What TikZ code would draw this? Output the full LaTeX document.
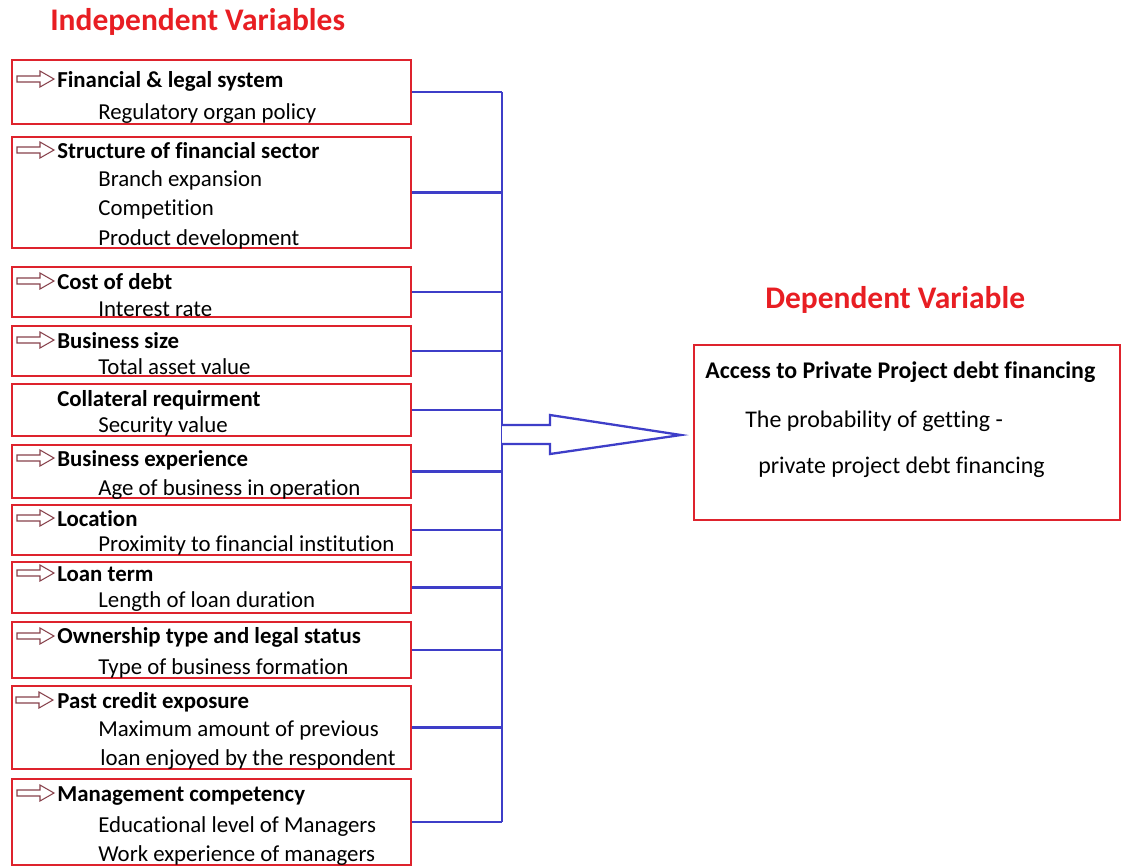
\documentclass[tikz,border=0pt]{standalone}
\usepackage{fontspec}
\setmainfont{Carlito}[Ligatures=NoCommon]
\usepackage{tikz}
\usetikzlibrary{positioning,calc}
\definecolor{boxred}{RGB}{222,35,45}
\definecolor{headred}{RGB}{232,30,35}
\definecolor{linkblue}{RGB}{62,62,200}
\definecolor{ptrbrown}{RGB}{135,65,75}
\newcommand{\bodysize}{\fontsize{13}{15}\selectfont}
\newcommand{\depsize}{\fontsize{13.6}{16}\selectfont}
\newcommand{\headsize}{\fontsize{17.9}{20}\selectfont}

\begin{document}
\begin{tikzpicture}[
    x=0.02cm, y=-0.02cm,
    ivbox/.style={draw=boxred, line width=1.4pt, minimum width=7.98cm, inner sep=0pt},
    ivtitle/.style={anchor=base west, inner sep=0pt, font=\bodysize\bfseries},
    ivsub/.style={anchor=base west, inner sep=0pt, font=\bodysize},
    header/.style={anchor=base west, inner sep=0pt, font=\headsize\bfseries, text=headred},
    link/.style={draw=linkblue, line width=1.3pt},
    ptr/.pic={\draw[ptrbrown, line width=0.6pt, fill=white]
        (0,-3) -- (23,-3) -- (23,-8) -- (37,0) -- (23,8) -- (23,3) -- (0,3) -- cycle;}
]
\useasboundingbox (0,0) rectangle (1127,867);

% headers
\node[header] (indep) at (50,30) {Independent Variables};
\node[header] (dep) at (765,308) {Dependent Variable};

% independent variable boxes
\node[ivbox, minimum height=1.28cm] (fin) at (211.5,92) {};
\node[ivbox, minimum height=2.22cm] (struct) at (211.5,192.5) {};
\node[ivbox, minimum height=1.00cm] (cost) at (211.5,292) {};
\node[ivbox, minimum height=1.00cm] (size) at (211.5,351) {};
\node[ivbox, minimum height=1.04cm] (coll) at (211.5,410) {};
\node[ivbox, minimum height=1.06cm] (exper) at (211.5,471.5) {};
\node[ivbox, minimum height=1.00cm] (loc) at (211.5,530) {};
\node[ivbox, minimum height=1.02cm] (term) at (211.5,587.5) {};
\node[ivbox, minimum height=1.12cm] (own) at (211.5,650) {};
\node[ivbox, minimum height=1.66cm] (past) at (211.5,727.5) {};
\node[ivbox, minimum height=1.72cm] (mgmt) at (211.5,822) {};

% titles and items
\pic at (17,79) {ptr};
\node[ivtitle] (finT) at (57,87) {Financial \& legal system};
\node[ivsub] (finA) at (98,119) {Regulatory organ policy};

\pic at (17,150) {ptr};
\node[ivtitle] (structT) at (57,158) {Structure of financial sector};
\node[ivsub] (structA) at (98,186) {Branch expansion};
\node[ivsub] (structB) at (98,215) {Competition};
\node[ivsub] (structC) at (98,245) {Product development};

\pic at (17,281) {ptr};
\node[ivtitle] (costT) at (57,289) {Cost of debt};
\node[ivsub] (costA) at (98,316) {Interest rate};

\pic at (17,340) {ptr};
\node[ivtitle] (sizeT) at (57,348) {Business size};
\node[ivsub] (sizeA) at (98,374) {Total asset value};

\node[ivtitle] (collT) at (57,406) {Collateral requirment};
\node[ivsub] (collA) at (98,432) {Security value};

\pic at (17,458) {ptr};
\node[ivtitle] (experT) at (57,466) {Business experience};
\node[ivsub] (experA) at (98,495) {Age of business in operation};

\pic at (17,518) {ptr};
\node[ivtitle] (locT) at (57,526) {Location};
\node[ivsub] (locA) at (98,551) {Proximity to financial institution};

\pic at (17,573) {ptr};
\node[ivtitle] (termT) at (57,581) {Loan term};
\node[ivsub] (termA) at (98,607) {Length of loan duration};

\pic at (17,636) {ptr};
\node[ivtitle] (ownT) at (57,643) {Ownership type and legal status};
\node[ivsub] (ownA) at (98,674) {Type of business formation};

\pic at (16,700) {ptr};
\node[ivtitle] (pastT) at (57,708) {Past credit exposure};
\node[ivsub] (pastA) at (98,736) {Maximum amount of previous};
\node[ivsub] (pastB) at (100,765) {loan enjoyed by the respondent};

\pic at (17,793) {ptr};
\node[ivtitle] (mgmtT) at (57,801) {Management competency};
\node[ivsub] (mgmtA) at (98,832) {Educational level of Managers};
\node[ivsub] (mgmtB) at (98,861) {Work experience of managers};

% dependent variable box
\node[draw=boxred, line width=1.4pt, minimum width=8.52cm, minimum height=3.5cm, inner sep=0pt] (depbox) at (907,432.5) {};
\node[ivtitle, font=\depsize\bfseries] (depT) at (705,378) {Access to Private Project debt financing};
\node[ivsub, font=\depsize] (depA) at (745,427) {The probability of getting -};
\node[ivsub, font=\depsize] (depB) at (758,473) {private project debt financing};

% connectors to the bus
\coordinate (bus) at (502,0);
\foreach \b in {fin,struct,cost,size,coll,exper,loc,term,own,past,mgmt}
  \draw[link] (\b.east) -- (\b.east -| bus);
\draw[link] (fin.east -| bus) -- (mgmt.east -| bus);

% big hollow arrow
\draw[link, fill=white] (502,425) -- (550,425) -- (550,415) -- (681,435)
    -- (550,454) -- (550,444) -- (502,444);
\end{tikzpicture}
\end{document}
